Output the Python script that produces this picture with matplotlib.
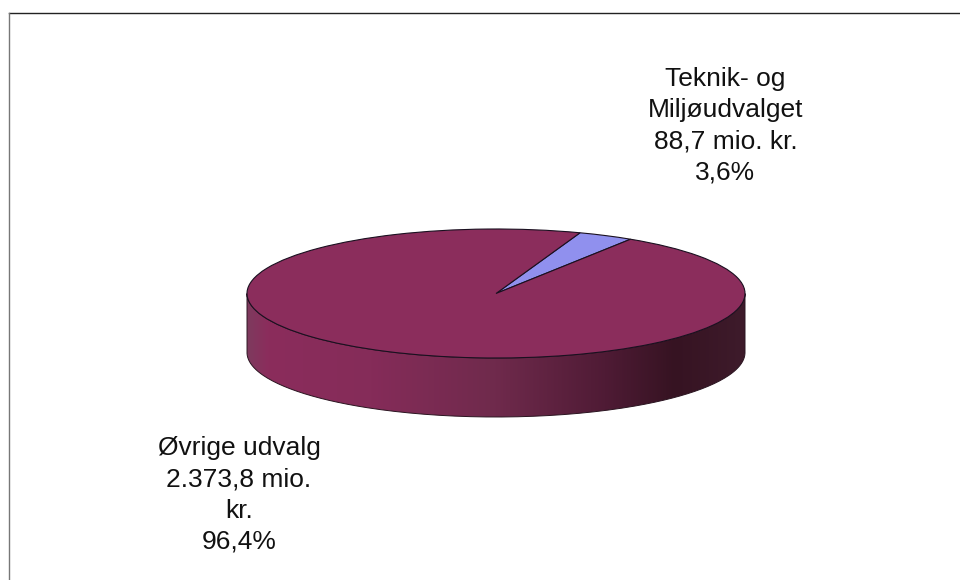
import numpy as np
import matplotlib
matplotlib.use("Agg")
import matplotlib.pyplot as plt
from matplotlib.colors import LinearSegmentedColormap
from matplotlib.patches import PathPatch
from matplotlib.path import Path
from matplotlib.transforms import Affine2D

plt.rcParams["font.family"] = ["Liberation Sans", "DejaVu Sans"]

labels = ["Teknik- og\nMiljøudvalget\n88,7 mio. kr.\n3,6%", "Øvrige udvalg\n2.373,8 mio.\nkr.\n96,4%"]
values = [88.7, 2373.8]
colors = ["#9090EE", "#8B2D5C"]

# side shading, left to right
shade_stops = [0.0, 0.04, 0.25, 0.5, 0.72, 0.86, 1.0]
shade_colors = ["#7E3A5E", "#8B2D5C", "#852C59", "#6F2A4C", "#4F1B35", "#361322", "#3E1B2B"]

# pie geometry in image pixels
cx, cy = 496, 293.5
rx, ry = 249, 64.5
depth = 59

fig = plt.figure(figsize=(9.6, 5.8), dpi=100)
ax = fig.add_axes([0, 0, 1, 1])
ax.set_xlim(0, 960)
ax.set_ylim(580, 0)
ax.axis("off")

# outer frame
ax.plot([9, 960], [13, 13], color="#222222", lw=1.0)
ax.plot([9, 9], [13, 580], color="#777777", lw=1.0)

# side of the disc
t = np.linspace(0, np.pi, 200)
xs = cx + rx * np.cos(t)
ys = cy + ry * np.sin(t)
verts = np.vstack([np.column_stack([xs, ys]), np.column_stack([xs[::-1], ys[::-1] + depth])])
side = PathPatch(Path(np.vstack([verts, verts[:1]])), fc="none", ec="#2A1420", lw=0.7, zorder=2)
ax.add_patch(side)
cmap = LinearSegmentedColormap.from_list("side", list(zip(shade_stops, shade_colors)))
img = ax.imshow(np.linspace(0, 1, 256)[None, :], cmap=cmap, aspect="auto",
                extent=[cx - rx, cx + rx, cy + ry + depth, cy], zorder=1)
img.set_clip_path(side)

# top face, squashed to an ellipse
wedges, _ = ax.pie(values, colors=colors, startangle=57.3, radius=1, center=(0, 0), frame=False,
                   wedgeprops={"edgecolor": "#1A1020", "linewidth": 0.8, "zorder": 3})
squash = Affine2D().scale(rx, -ry).translate(cx, cy) + ax.transData
for w in wedges:
    w.set_transform(squash)
ax.set_aspect("auto")
ax.set_xlim(0, 960)
ax.set_ylim(580, 0)
ax.axis("off")

ax.text(725.5, 125.5, labels[0], ha="center", va="center", fontsize=19, linespacing=1.37, color="#111111")
ax.text(239, 495, labels[1], ha="center", va="center", fontsize=19, linespacing=1.37, color="#111111")

fig.savefig("out.png", dpi=100)
